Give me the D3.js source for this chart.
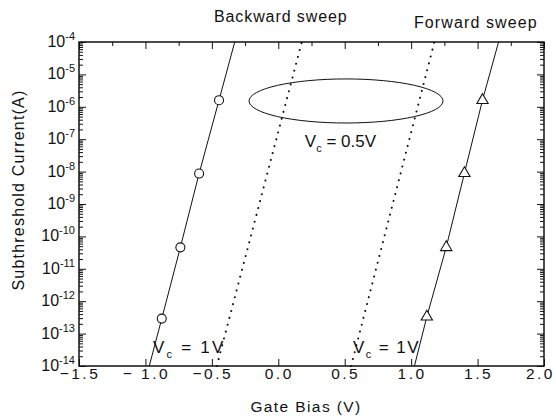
<!DOCTYPE html>
<html><head><meta charset="utf-8">
<script src="https://cdn.jsdelivr.net/npm/d3@7"></script>
<style>body{margin:0;background:#fff}svg{display:block}text{font-family:"Liberation Sans",Arial,sans-serif;fill:#111}</style>
</head><body><svg id="c" width="556" height="419"></svg>
<script>
// ---- data ----
const xTicks = [-1.5, -1.0, -0.5, 0.0, 0.5, 1.0, 1.5, 2.0];
const xTickLabels = ["\u22121.5", "\u2212 1.0", "\u22120.5", "0.0", "0.5", "1.0", "1.5", "2.0"];
const yTickExponents = [-4, -5, -6, -7, -8, -9, -10, -11, -12, -13, -14];

// backward sweep, Vc = 1V (solid with circles)
const bwdLineBias    = [-0.971, -0.877, -0.737, -0.596, -0.446, -0.328];
const bwdLineCurrent = [1e-14, 2.9e-13, 4.6e-11, 8.7e-9, 1.6e-6, 1e-4];
const bwdMarkBias    = [-0.877, -0.737, -0.596, -0.446];
const bwdMarkCurrent = [2.9e-13, 4.6e-11, 8.7e-9, 1.6e-6];

// forward sweep, Vc = 1V (solid with triangles)
const fwdLineBias    = [1.025, 1.118, 1.264, 1.401, 1.537, 1.658];
const fwdLineCurrent = [1e-14, 3.3e-13, 4.6e-11, 8.9e-9, 1.6e-6, 1e-4];
const fwdMarkBias    = [1.118, 1.264, 1.401, 1.537];
const fwdMarkCurrent = [3.3e-13, 4.6e-11, 8.9e-9, 1.6e-6];

// Vc = 0.5V (dotted)
const bwdHalfBias    = [-0.463, 0.177];
const bwdHalfCurrent = [1e-14, 1e-4];
const fwdHalfBias    = [0.548, 1.175];
const fwdHalfCurrent = [1e-14, 1e-4];

// ---- layout ----
const svg = d3.select("#c");
const L = 79, T = 42, W = 465, H = 324;
const x = d3.scaleLinear().domain([-1.5, 2.0]).range([L, L + W]);
const y = d3.scaleLog().domain([1e-14, 1e-4]).range([T + H, T]);

// minor ticks (log)
const minors = [];
for (let e = -14; e < -4; e++) for (let m = 2; m <= 9; m++) minors.push(m * Math.pow(10, e));
svg.append("g").attr("transform", `translate(${L},0)`).call(d3.axisLeft(y).tickValues(minors).tickSize(-4).tickFormat(""));
svg.append("g").attr("transform", `translate(${L + W},0)`).call(d3.axisRight(y).tickValues(minors).tickSize(-4).tickFormat(""));
// major y
const majors = yTickExponents.map(e => Math.pow(10, e));
svg.append("g").attr("transform", `translate(${L},0)`).call(d3.axisLeft(y).tickValues(majors).tickSize(-7).tickFormat(""));
svg.append("g").attr("transform", `translate(${L + W},0)`).call(d3.axisRight(y).tickValues(majors).tickSize(-7).tickFormat(""));
// x ticks
svg.append("g").attr("transform", `translate(0,${T + H})`).call(d3.axisBottom(x).tickValues(xTicks).tickSize(-7).tickFormat(""));
svg.append("g").attr("transform", `translate(0,${T})`).call(d3.axisTop(x).tickValues(xTicks).tickSize(-7).tickFormat(""));
const xMinor = d3.range(-1.25, 2.0, 0.5);
svg.append("g").attr("transform", `translate(0,${T})`).call(d3.axisTop(x).tickValues(xMinor).tickSize(-4).tickFormat(""));
svg.selectAll(".domain").remove();
svg.selectAll(".tick line").attr("stroke", "#111").attr("stroke-width", 1);

// frame
svg.append("rect").attr("x", L).attr("y", T).attr("width", W).attr("height", H)
  .attr("fill", "none").attr("stroke", "#111").attr("stroke-width", 1.5);

// x tick labels
svg.append("g").selectAll("text").data(xTicks).join("text")
  .attr("x", (d, i) => i === xTicks.length - 1 ? 555 : x(d) + 1)
  .attr("y", T + H + 13)
  .attr("text-anchor", (d, i) => i === xTicks.length - 1 ? "end" : "middle")
  .attr("font-size", 15.5).attr("letter-spacing", 2.5)
  .text((d, i) => xTickLabels[i]);

// y tick labels
const yl = svg.append("g").selectAll("text").data(yTickExponents).join("text")
  .attr("x", L - 4).attr("y", d => y(Math.pow(10, d)) + 5)
  .attr("text-anchor", "end").attr("font-size", 16);
yl.append("tspan").text("10");
yl.append("tspan").attr("dy", -7).attr("font-size", 11).text(d => String(d));

// axis titles
svg.append("text").attr("x", 306).attr("y", 412).attr("text-anchor", "middle")
  .attr("font-size", 15.5).attr("letter-spacing", 1.4).text("Gate Bias (V)");
svg.append("text").attr("transform", `translate(24,${T + H / 2 - 14}) rotate(-90)`)
  .attr("text-anchor", "middle").attr("font-size", 16).attr("letter-spacing", 1.2).text("Subthreshold Current(A)");

// lines
const line = d3.line().x(d => x(d[0])).y(d => y(d[1]));
const solid = (b, c) => svg.append("path").datum(b.map((v, i) => [v, c[i]])).attr("d", line)
  .attr("fill", "none").attr("stroke", "#111").attr("stroke-width", 1);
solid(bwdLineBias, bwdLineCurrent);
solid(fwdLineBias, fwdLineCurrent);
const dotted = (b, c) => svg.append("path").datum(b.map((v, i) => [v, c[i]])).attr("d", line)
  .attr("fill", "none").attr("stroke", "#111").attr("stroke-width", 2)
  .attr("stroke-linecap", "round").attr("stroke-dasharray", "0.1,7");
dotted(bwdHalfBias, bwdHalfCurrent);
dotted(fwdHalfBias, fwdHalfCurrent);

// markers
svg.append("g").selectAll("circle").data(bwdMarkBias).join("circle")
  .attr("cx", d => x(d)).attr("cy", (d, i) => y(bwdMarkCurrent[i])).attr("r", 4.5)
  .attr("fill", "#fff").attr("stroke", "#111").attr("stroke-width", 1.1);
svg.append("g").selectAll("path").data(fwdMarkBias).join("path")
  .attr("transform", (d, i) => `translate(${x(d)},${y(fwdMarkCurrent[i])})`)
  .attr("d", d3.symbol().type(d3.symbolTriangle).size(55))
  .attr("fill", "#fff").attr("stroke", "#111").attr("stroke-width", 1.1);

// ellipse annotation
const ecx = 0.51, ecy = Math.pow(10, -5.82);
svg.append("ellipse").attr("cx", x(ecx)).attr("cy", y(ecy))
  .attr("rx", x(ecx + 0.73) - x(ecx)).attr("ry", y(Math.pow(10, -5.82 - 0.68)) - y(ecy))
  .attr("fill", "none").attr("stroke", "#111").attr("stroke-width", 1);

// Vc labels
function vc(xv, yv, val, ls) {
  const t = svg.append("text").attr("x", x(xv)).attr("y", y(yv)).attr("font-size", 17)
    .attr("letter-spacing", ls);
  t.append("tspan").text("V");
  t.append("tspan").attr("dy", 5).attr("font-size", 11).text("c");
  t.append("tspan").attr("dy", -5).text(" = " + val);
}
vc(0.20, Math.pow(10, -7.23), "0.5V", 0);
vc(-0.943, Math.pow(10, -13.6), "1V", 2.2);
vc(0.563, Math.pow(10, -13.6), "1V", 1.4);

// sweep labels
svg.append("text").attr("x", 214).attr("y", 22).attr("font-size", 16).attr("letter-spacing", 0.9).text("Backward sweep");
svg.append("text").attr("x", 414).attr("y", 28).attr("font-size", 16).attr("letter-spacing", 1.1).text("Forward sweep");
</script></body></html>
